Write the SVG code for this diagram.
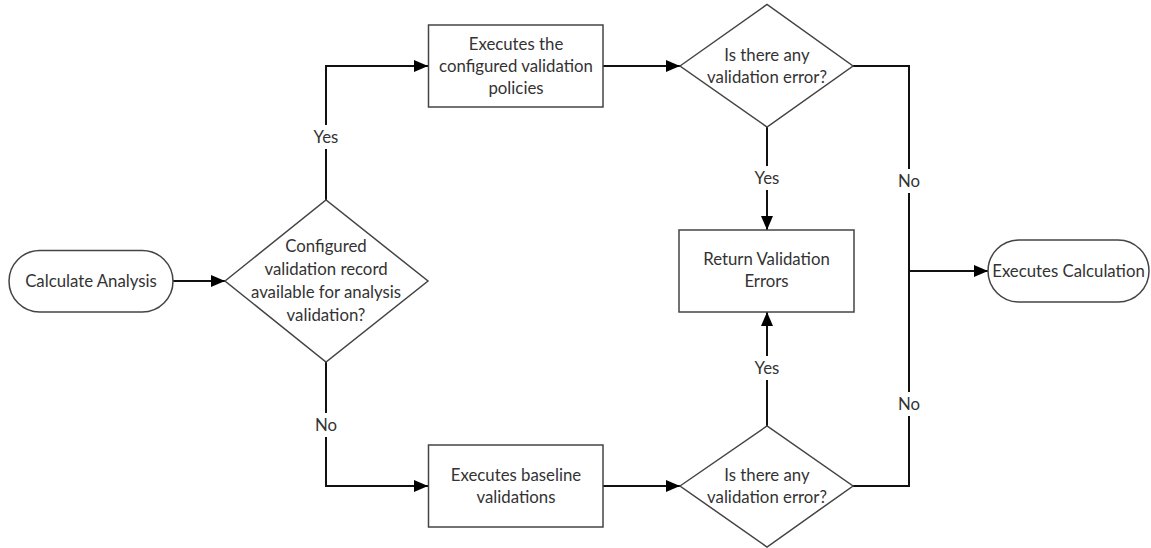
<svg xmlns="http://www.w3.org/2000/svg" width="1151" height="548" viewBox="0 0 1151 548">
<defs>
<marker id="ah" markerWidth="14" markerHeight="12" refX="14" refY="6" orient="auto" markerUnits="userSpaceOnUse">
<path d="M0,0 L14,6 L0,12 Z" fill="#000"/>
</marker>
<style>
.shape{fill:#fff;stroke:#444;stroke-width:1.5}
.conn{fill:none;stroke:#111;stroke-width:2}
text{font-family:Lato,"Liberation Sans",sans-serif;font-size:16.8px;fill:#333;text-anchor:middle}
.lbl{fill:#333}
</style>
</defs>
<rect width="1151" height="548" fill="#fff"/>
<g id="connectors">
<path class="conn" d="M173,281 H225" marker-end="url(#ah)"/>
<path class="conn" d="M326,200 V66 H428" marker-end="url(#ah)"/>
<path class="conn" d="M326,362 V486 H428" marker-end="url(#ah)"/>
<path class="conn" d="M603,66 H680" marker-end="url(#ah)"/>
<path class="conn" d="M603,486 H680" marker-end="url(#ah)"/>
<path class="conn" d="M767,127 V230" marker-end="url(#ah)"/>
<path class="conn" d="M767,426 V312" marker-end="url(#ah)"/>
<path class="conn" d="M853,66 H909 V486 H853"/>
<path class="conn" d="M909,271 H988" marker-end="url(#ah)"/>
<rect x="308" y="125" width="36" height="24" fill="#fff"/>
<text class="lbl" x="326" y="143">Yes</text>
<rect x="311" y="413" width="30" height="24" fill="#fff"/>
<text class="lbl" x="326" y="431">No</text>
<rect x="749" y="166" width="36" height="24" fill="#fff"/>
<text class="lbl" x="767" y="184">Yes</text>
<rect x="749" y="356" width="36" height="24" fill="#fff"/>
<text class="lbl" x="767" y="374">Yes</text>
<rect x="894" y="169" width="30" height="24" fill="#fff"/>
<text class="lbl" x="909" y="187">No</text>
<rect x="894" y="392" width="30" height="24" fill="#fff"/>
<text class="lbl" x="909" y="410">No</text>
</g>
<g id="start">
<rect class="shape" x="9" y="250.5" width="164" height="61.5" rx="30.75"/>
<text x="91" y="287">Calculate Analysis</text>
</g>
<g id="decision1">
<polygon class="shape" points="225,281 326,200 428,281 326,362"/>
<text x="326" y="252">Configured</text>
<text x="326" y="275">validation record</text>
<text x="326" y="298">available for analysis</text>
<text x="326" y="321">validation?</text>
</g>
<g id="policies">
<rect class="shape" x="428.5" y="25" width="174.5" height="82"/>
<text x="516" y="50">Executes the</text>
<text x="516" y="72">configured validation</text>
<text x="516" y="94">policies</text>
</g>
<g id="baseline">
<rect class="shape" x="428.5" y="445" width="174.5" height="82"/>
<text x="516" y="481">Executes baseline</text>
<text x="516" y="503">validations</text>
</g>
<g id="decision2">
<polygon class="shape" points="680,66 767,4.5 853,66 767,127"/>
<text x="767" y="61">Is there any</text>
<text x="767" y="83">validation error?</text>
</g>
<g id="decision3">
<polygon class="shape" points="680,486 767,426 853,486 767,547"/>
<text x="767" y="481">Is there any</text>
<text x="767" y="503">validation error?</text>
</g>
<g id="returnErrors">
<rect class="shape" x="679" y="230" width="175" height="82"/>
<text x="766.5" y="265">Return Validation</text>
<text x="766.5" y="287">Errors</text>
</g>
<g id="end">
<rect class="shape" x="988" y="240" width="161" height="62" rx="31"/>
<text x="1068.5" y="277">Executes Calculation</text>
</g>
</svg>
